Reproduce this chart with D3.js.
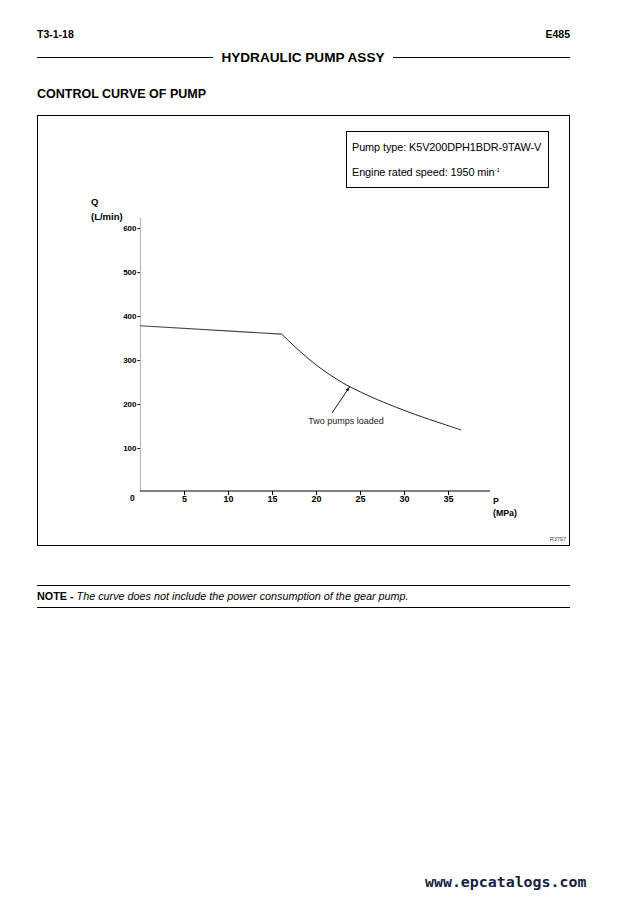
<!DOCTYPE html>
<html>
<head>
<meta charset="utf-8">
<script src="https://cdn.jsdelivr.net/npm/d3@7"></script>
<style>
  body { margin: 0; background: #fff; }
  svg { display: block; font-family: "Liberation Sans", Arial, sans-serif; }
</style>
</head>
<body>
<svg width="637" height="898"></svg>
<script>
// values
var xTicks = [5, 10, 15, 20, 25, 30, 35];
var yTicks = [100, 200, 300, 400, 500, 600];
var flatPts = [[0, 378], [16.1, 359]];       // P (MPa), Q (L/min)
var curvePts = [[16.1, 359], [17.6, 330], [19.9, 289], [22.2, 258], [23.7, 240],
                [26.7, 212], [27.8, 203], [31.2, 176], [34.7, 153], [36.5, 141]];
var pumpType = "Pump type: K5V200DPH1BDR-9TAW-V";
var engineSpeed = "Engine rated speed: 1950 min";

var svg = d3.select("svg");

var x = d3.scaleLinear().domain([0, 40]).range([140, 492]);
var y = d3.scaleLinear().domain([0, 623]).range([492, 218]);

// page header
svg.append("text").attr("x", 37).attr("y", 38).attr("font-size", 10.5).attr("font-weight", "bold").text("T3-1-18");
svg.append("text").attr("x", 570).attr("y", 38).attr("font-size", 10.5).attr("font-weight", "bold")
    .attr("text-anchor", "end").text("E485");
svg.append("line").attr("x1", 37).attr("x2", 213).attr("y1", 57.5).attr("y2", 57.5).attr("stroke", "#000");
svg.append("line").attr("x1", 393).attr("x2", 570).attr("y1", 57.5).attr("y2", 57.5).attr("stroke", "#000");
svg.append("text").attr("x", 303).attr("y", 62).attr("font-size", 13.6).attr("font-weight", "bold")
    .attr("text-anchor", "middle").text("HYDRAULIC PUMP ASSY");
svg.append("text").attr("x", 37).attr("y", 98).attr("font-size", 12.5).attr("font-weight", "bold")
    .text("CONTROL CURVE OF PUMP");

// chart frame
svg.append("rect").attr("x", 37.5).attr("y", 115.5).attr("width", 532).attr("height", 430)
    .attr("fill", "none").attr("stroke", "#000").attr("stroke-width", 1);

// info box
svg.append("rect").attr("x", 346.5).attr("y", 131.5).attr("width", 202).attr("height", 56)
    .attr("fill", "none").attr("stroke", "#000").attr("stroke-width", 1);
svg.append("text").attr("x", 352).attr("y", 151).attr("font-size", 10.9).attr("letter-spacing", -0.1).text(pumpType);
var spd = svg.append("text").attr("x", 352).attr("y", 176).attr("font-size", 10.9).attr("letter-spacing", -0.1).text(engineSpeed);
spd.append("tspan").attr("font-size", 6).attr("dy", -4).text("-1");

// y axis
var yAxis = d3.axisLeft(y).tickValues(yTicks).tickSize(3).tickPadding(1).tickFormat(d3.format("d"));
var gy = svg.append("g").attr("transform", "translate(140.5,0)").call(yAxis);
gy.select(".domain").remove();
gy.selectAll("text").attr("font-size", 8).attr("font-weight", "bold").attr("fill", "#000").attr("font-family", "Liberation Sans, Arial");
gy.selectAll("line").attr("stroke", "#000");
svg.append("line").attr("x1", 140.5).attr("x2", 140.5).attr("y1", 218).attr("y2", 492)
    .attr("stroke", "#bbb").attr("stroke-width", 1.2);

// x axis
var xAxis = d3.axisBottom(x).tickValues(xTicks).tickSize(4).tickPadding(1).tickFormat(d3.format("d"));
var gx = svg.append("g").attr("transform", "translate(0,491)").call(xAxis);
gx.select(".domain").remove();
gx.selectAll("text").attr("font-size", 9).attr("font-weight", "bold").attr("fill", "#000").attr("font-family", "Liberation Sans, Arial");
gx.selectAll("line").attr("stroke", "#000");
svg.append("line").attr("x1", 140).attr("x2", 490).attr("y1", 491).attr("y2", 491)
    .attr("stroke", "#000").attr("stroke-width", 1.2);

svg.append("text").attr("x", 130).attr("y", 501).attr("font-size", 8.5).attr("font-weight", "bold").text("0");

// axis titles
svg.append("text").attr("x", 91).attr("y", 205).attr("font-size", 9.5).attr("font-weight", "bold").text("Q");
svg.append("text").attr("x", 91).attr("y", 220).attr("font-size", 9.5).attr("font-weight", "bold").text("(L/min)");
svg.append("text").attr("x", 493).attr("y", 504).attr("font-size", 8.8).attr("font-weight", "bold").text("P");
svg.append("text").attr("x", 493).attr("y", 516).attr("font-size", 8.8).attr("font-weight", "bold").text("(MPa)");

// curves
var line = d3.line().x(function(d) { return x(d[0]); }).y(function(d) { return y(d[1]); });
svg.append("path").datum(flatPts).attr("d", line.curve(d3.curveLinear))
    .attr("fill", "none").attr("stroke", "#444").attr("stroke-width", 1.1);
svg.append("path").datum(curvePts).attr("d", line.curve(d3.curveBasis))
    .attr("fill", "none").attr("stroke", "#222").attr("stroke-width", 1);

// callout
svg.append("defs").append("marker").attr("id", "ah").attr("viewBox", "0 0 10 10")
    .attr("refX", 10).attr("refY", 5).attr("markerWidth", 7).attr("markerHeight", 5)
    .attr("orient", "auto").append("path").attr("d", "M0,1.5L10,5L0,8.5Z").attr("fill", "#000");
svg.append("line").attr("x1", 332).attr("y1", 413).attr("x2", 349.5).attr("y2", 387)
    .attr("stroke", "#000").attr("stroke-width", 0.9).attr("marker-end", "url(#ah)");
svg.append("text").attr("x", 346).attr("y", 424).attr("font-size", 9).attr("text-anchor", "middle")
    .attr("fill", "#222").text("Two pumps loaded");

svg.append("text").attr("x", 566).attr("y", 541).attr("font-size", 5.5).attr("text-anchor", "end")
    .attr("fill", "#445").text("R3797");

// note
svg.append("line").attr("x1", 37).attr("x2", 570).attr("y1", 585.5).attr("y2", 585.5).attr("stroke", "#000");
svg.append("line").attr("x1", 37).attr("x2", 570).attr("y1", 607.5).attr("y2", 607.5).attr("stroke", "#000");
var note = svg.append("text").attr("x", 37).attr("y", 600).attr("font-size", 10.8);
note.append("tspan").attr("font-weight", "bold").text("NOTE - ");
note.append("tspan").attr("font-style", "italic").text("The curve does not include the power consumption of the gear pump.");

// watermark
svg.append("text").attr("x", 425).attr("y", 887).attr("font-size", 14.9).attr("font-weight", "bold")
    .attr("font-family", "DejaVu Sans Mono, monospace").attr("fill", "#14223f").text("www.epcatalogs.com");
</script>
</body>
</html>
